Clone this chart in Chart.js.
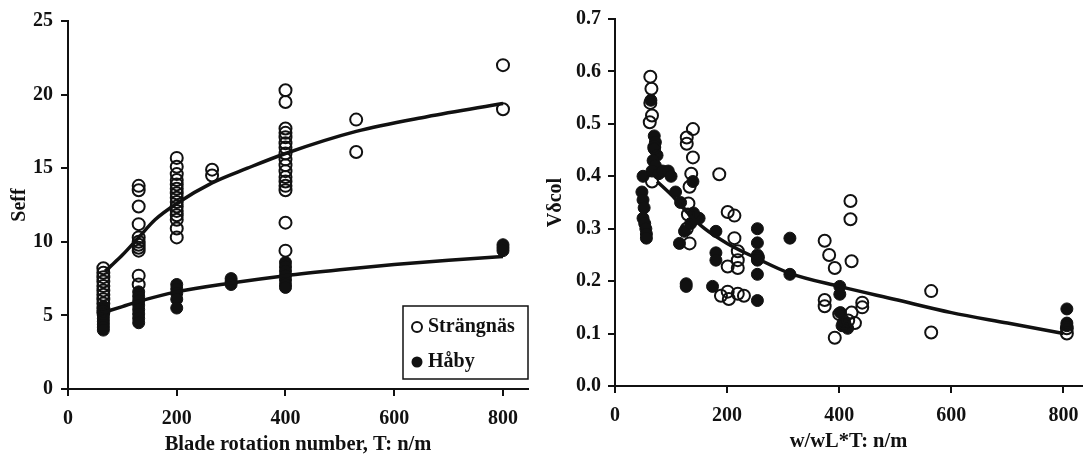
<!DOCTYPE html>
<html lang="en">
<head>
  <meta charset="UTF-8">
  <script src="https://cdn.jsdelivr.net/npm/chart.js"></script>
  <title>Seff and Vδcol</title>
  <style>
    body { margin: 0; background: #fff; }
    canvas { position: absolute; top: 0; }
    #chartLeft { left: 0; }
    #chartRight { left: 545px; }
  </style>
</head>
<body>
  <canvas id="chartLeft" width="545" height="455"></canvas>
  <canvas id="chartRight" width="545" height="455"></canvas>

<script>
  // left panel: Seff vs blade rotation number
  const strangnasT = [65, 65, 65, 65, 65, 65, 65, 65, 65, 65, 65,
    130, 130, 130, 130, 130, 130, 130, 130, 130, 130, 130,
    200, 200, 200, 200, 200, 200, 200, 200, 200, 200, 200, 200, 200, 200, 200,
    265, 265,
    400, 400, 400, 400, 400, 400, 400, 400, 400, 400, 400, 400, 400, 400, 400, 400, 400,
    530, 530, 800, 800];
  const strangnasSeff = [8.2, 7.9, 7.6, 7.3, 7.0, 6.7, 6.4, 6.1, 5.8, 5.5, 5.2,
    13.8, 13.5, 12.4, 11.2, 10.3, 10.0, 9.8, 9.6, 9.4, 7.7, 7.1,
    15.7, 15.1, 14.6, 14.2, 13.9, 13.6, 13.3, 13.0, 12.7, 12.4, 12.1, 11.8, 11.5, 10.9, 10.3,
    14.9, 14.5,
    20.3, 19.5, 17.7, 17.4, 17.1, 16.7, 16.4, 16.0, 15.6, 15.2, 14.8, 14.4, 14.1, 13.8, 13.5, 11.3, 9.4,
    18.3, 16.1, 22.0, 19.0];
  const habyT = [65, 65, 65, 65, 65, 65, 65, 65,
    130, 130, 130, 130, 130, 130, 130, 130,
    200, 200, 200, 200, 200,
    300, 300, 300,
    400, 400, 400, 400, 400, 400, 400,
    800, 800, 800];
  const habySeff = [5.6, 5.3, 5.0, 4.8, 4.6, 4.4, 4.2, 4.0,
    6.6, 6.3, 6.0, 5.7, 5.4, 5.1, 4.8, 4.5,
    7.1, 6.8, 6.5, 6.1, 5.5,
    7.5, 7.3, 7.1,
    8.6, 8.3, 8.0, 7.7, 7.4, 7.1, 6.9,
    9.8, 9.6, 9.4];
  const fitStrangnasT = [68, 80, 100, 130, 160, 200, 265, 330, 400, 530, 660, 800];
  const fitStrangnasSeff = [8.0, 8.4, 9.1, 10.3, 11.5, 12.6, 14.0, 15.0, 16.0, 17.5, 18.5, 19.4];
  const fitHabyT = [65, 100, 130, 200, 300, 400, 500, 600, 700, 800];
  const fitHabySeff = [5.2, 5.6, 5.95, 6.6, 7.2, 7.7, 8.1, 8.45, 8.75, 9.0];

  // right panel: Vδcol vs w/wL*T
  const strangnasW = [63, 65, 63, 66, 62, 70, 66,
    128, 128, 139, 139, 136, 133, 131, 130, 133, 128,
    186, 201, 213, 213, 201, 219, 219, 219, 189, 201, 203, 219, 230,
    255,
    374, 382, 392, 420, 420, 422, 374, 374, 392, 400, 408, 416, 422, 428, 441, 441,
    564, 564, 806, 806];
  const strangnasV = [0.59, 0.567, 0.54, 0.516, 0.503, 0.455, 0.39,
    0.474, 0.462, 0.49, 0.436, 0.405, 0.38, 0.348, 0.327, 0.272, 0.30,
    0.404, 0.332, 0.325, 0.282, 0.228, 0.257, 0.24, 0.225, 0.172, 0.18, 0.166, 0.176, 0.172,
    0.245,
    0.277, 0.25, 0.225, 0.353, 0.318, 0.238, 0.164, 0.152, 0.092, 0.137, 0.12, 0.125, 0.14, 0.12, 0.159, 0.15,
    0.181, 0.102, 0.10, 0.11];
  const habyW = [50, 48, 50, 52, 50, 53, 55, 56, 56,
    64, 70, 72, 70, 75, 68, 72, 66, 78, 85, 95, 100, 108, 117,
    139, 143, 124, 115, 127, 127, 150, 135, 140,
    180, 180, 180, 174,
    254, 254, 254, 254, 254, 254,
    312, 312,
    401, 401, 402, 405, 410, 415,
    806, 806, 806];
  const habyV = [0.40, 0.37, 0.355, 0.34, 0.32, 0.31, 0.30, 0.29, 0.282,
    0.545, 0.477, 0.465, 0.452, 0.44, 0.43, 0.42, 0.41, 0.405, 0.41, 0.41, 0.40, 0.37, 0.35,
    0.39, 0.32, 0.295, 0.272, 0.195, 0.19, 0.32, 0.31, 0.33,
    0.295, 0.254, 0.24, 0.19,
    0.30, 0.273, 0.25, 0.24, 0.213, 0.163,
    0.282, 0.213,
    0.19, 0.175, 0.14, 0.115, 0.12, 0.11,
    0.147, 0.12, 0.115];
  const fitW = [75, 100, 130, 160, 200, 250, 312, 400, 500, 600, 700, 800];
  const fitV = [0.39, 0.365, 0.33, 0.30, 0.272, 0.245, 0.215, 0.19, 0.165, 0.14, 0.12, 0.10];

  const xTicks = [0, 200, 400, 600, 800];

  function pts(xs, ys) {
    return xs.map(function (x, i) { return { x: x, y: ys[i] }; });
  }

  const serif = 'Liberation Serif, Times New Roman, serif';

  function openSet(data) {
    return {
      type: 'scatter', data: data, order: 2,
      pointStyle: 'circle', pointRadius: 6, borderWidth: 2,
      borderColor: '#111', backgroundColor: 'rgba(0,0,0,0)'
    };
  }
  function filledSet(data) {
    return {
      type: 'scatter', data: data, order: 3,
      pointStyle: 'circle', pointRadius: 6, borderWidth: 1,
      borderColor: '#111', backgroundColor: '#111'
    };
  }
  function fitSet(data) {
    return {
      type: 'line', data: data, order: 1,
      borderColor: '#111', borderWidth: 3.5, pointRadius: 0,
      cubicInterpolationMode: 'monotone', fill: false
    };
  }

  function axes(o) {
    return {
      x: {
        type: 'linear', min: 0, max: o.xMax,
        afterBuildTicks: function (s) { s.ticks = xTicks.map(function (v) { return { value: v }; }); },
        afterFit: function (s) { s.height = o.xHeight; },
        border: { color: '#111', width: 2 },
        grid: { drawOnChartArea: false, drawTicks: true, tickLength: 7, color: '#111', lineWidth: 2 },
        ticks: { color: '#111', padding: 11, maxRotation: 0, font: { family: serif, size: 20, weight: 'bold' } },
        title: {
          display: true, text: o.xTitle, color: '#111',
          padding: { top: 0, bottom: o.xTitlePad },
          font: { family: serif, size: 20.5, weight: 'bold', lineHeight: 1 }
        }
      },
      y: {
        type: 'linear', min: 0, max: o.yMax,
        afterFit: function (s) { s.width = o.yWidth; },
        border: { color: '#111', width: 2 },
        grid: { drawOnChartArea: false, drawTicks: true, tickLength: 7, color: '#111', lineWidth: 2 },
        ticks: {
          color: '#111', padding: o.yTickPad, stepSize: o.yStep,
          font: { family: serif, size: 20, weight: 'bold' },
          callback: o.yFmt
        },
        title: {
          display: true, text: o.yTitle, color: '#111',
          padding: { top: o.yTitlePad, bottom: 0 },
          font: { family: serif, size: 20, weight: 'bold', lineHeight: 1 }
        }
      }
    };
  }

  // legend box in the lower right corner of the left panel
  const legendBox = {
    id: 'legendBox',
    afterDraw: function (chart) {
      const ctx = chart.ctx;
      const a = chart.chartArea;
      const w = 125, h = 73;
      const x0 = a.right - w, y0 = a.bottom - 10 - h;
      ctx.save();
      ctx.strokeStyle = '#111';
      ctx.lineWidth = 1.5;
      ctx.fillStyle = '#fff';
      ctx.fillRect(x0, y0, w, h);
      ctx.strokeRect(x0, y0, w, h);
      ctx.lineWidth = 2;
      ctx.beginPath();
      ctx.arc(x0 + 14, y0 + 21, 5, 0, Math.PI * 2);
      ctx.stroke();
      ctx.fillStyle = '#111';
      ctx.beginPath();
      ctx.arc(x0 + 14, y0 + 56, 5.5, 0, Math.PI * 2);
      ctx.fill();
      ctx.font = 'bold 20px ' + serif;
      ctx.textBaseline = 'middle';
      ctx.fillText('Strängnäs', x0 + 25, y0 + 21);
      ctx.fillText('Håby', x0 + 25, y0 + 56);
      ctx.restore();
    }
  };

  new Chart(document.getElementById('chartLeft'), {
    data: {
      datasets: [
        Object.assign(fitSet(pts(fitStrangnasT, fitStrangnasSeff)), { label: 'fit Strängnäs' }),
        Object.assign(fitSet(pts(fitHabyT, fitHabySeff)), { label: 'fit Håby' }),
        Object.assign(openSet(pts(strangnasT, strangnasSeff)), { label: 'Strängnäs' }),
        Object.assign(filledSet(pts(habyT, habySeff)), { label: 'Håby' })
      ]
    },
    options: {
      responsive: false,
      animation: false,
      layout: { padding: { top: 21, right: 17, bottom: 0, left: 0 } },
      plugins: { legend: { display: false }, tooltip: { enabled: false } },
      scales: axes({
        xMax: 846, xHeight: 66, xTitle: 'Blade rotation number, T: n/m', xTitlePad: 0,
        yMax: 25, yStep: 5, yWidth: 68, yTickPad: 8, yTitle: 'Seff', yTitlePad: 10,
        yFmt: function (v) { return v; }
      })
    },
    plugins: [legendBox]
  });

  new Chart(document.getElementById('chartRight'), {
    data: {
      datasets: [
        Object.assign(fitSet(pts(fitW, fitV)), { label: 'fit' }),
        Object.assign(openSet(pts(strangnasW, strangnasV)), { label: 'Strängnäs' }),
        Object.assign(filledSet(pts(habyW, habyV)), { label: 'Håby' })
      ]
    },
    options: {
      responsive: false,
      animation: false,
      layout: { padding: { top: 16, right: 0, bottom: 0, left: 0 } },
      plugins: { legend: { display: false }, tooltip: { enabled: false } },
      scales: axes({
        xMax: 833, xHeight: 69, xTitle: 'w/wL*T: n/m', xTitlePad: 3,
        yMax: 0.7, yStep: 0.1, yWidth: 70, yTickPad: 7, yTitle: 'Vδcol', yTitlePad: 1,
        yFmt: function (v) { return Number(v).toFixed(1); }
      })
    }
  });
</script>
</body>
</html>
